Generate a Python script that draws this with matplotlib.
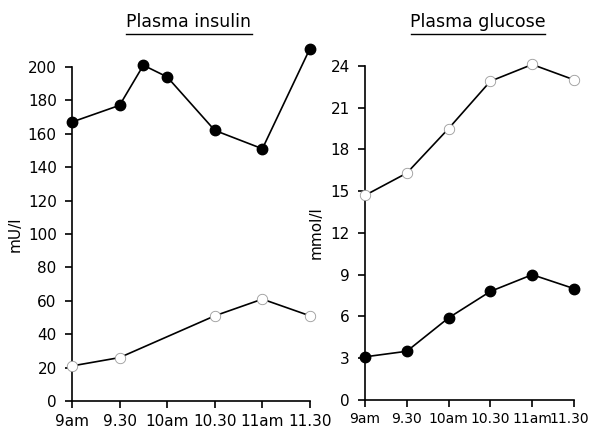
import matplotlib.pyplot as plt
from matplotlib.lines import Line2D
from matplotlib.transforms import ScaledTranslation

# time in minutes after 9am
ticks = [0, 30, 60, 90, 120, 150]
tick_labels = ["9am", "9.30", "10am", "10.30", "11am", "11.30"]

# plasma insulin (mU/l)
ins_hi_t = [0, 30, 45, 60, 90, 120, 150]
ins_hi = [167, 177, 201, 194, 162, 151, 211]
ins_lo_t = [0, 30, 90, 120, 150]
ins_lo = [21, 26, 51, 61, 51]

# plasma glucose (mmol/l)
glu_t = [0, 30, 60, 90, 120, 150]
glu_hi = [14.7, 16.3, 19.5, 22.9, 24.1, 23.0]
glu_lo = [3.1, 3.5, 5.9, 7.8, 9.0, 8.0]

plt.rcParams['font.family'] = ['DejaVu Sans']
fig = plt.figure(figsize=(5.92, 4.30), dpi=100)

ax1 = fig.add_axes([0.1216, 0.0674, 0.402, 0.777])
ax2 = fig.add_axes([0.6166, 0.0698, 0.353, 0.777])


def style(ax, xsize):
    for s in ["top", "right"]:
        ax.spines[s].set_visible(False)
    for s in ["left", "bottom"]:
        ax.spines[s].set_linewidth(1.2)
    ax.tick_params(direction="out", length=5, width=1.2, labelsize=11)
    ax.tick_params(axis="y", pad=6)
    ax.tick_params(axis="x", pad=4, labelsize=xsize)
    ax.set_xticks(ticks)
    ax.set_xticklabels(tick_labels)
    ax.set_xlim(0, 150)


filled = dict(color="black", lw=1.2, marker="o", ms=7.5, mfc="black", mec="black", clip_on=False, zorder=3)
hollow = dict(color="black", lw=1.2, marker="o", ms=7.5, mfc="white", mec="0.6", mew=0.6, clip_on=False, zorder=3)

ax1.plot(ins_hi_t, ins_hi, **filled)
ax1.plot(ins_lo_t, ins_lo, **hollow)
ax1.set_ylim(0, 200)
ax1.set_yticks(range(0, 201, 20))
ax1.set_ylabel("mU/l", fontsize=11, labelpad=4)
style(ax1, 11)

ax2.plot(glu_t, glu_hi, **hollow)
ax2.plot(glu_t, glu_lo, **filled)
ax2.set_ylim(0, 24)
ax2.set_yticks(range(0, 25, 3))
ax2.set_ylabel("mmol/l", fontsize=11, labelpad=5)
style(ax2, 10)
# nudge the last label left so it stays inside the figure
last = ax2.get_xticklabels()[-1]
last.set_transform(last.get_transform() + ScaledTranslation(-5 / 100, 0, fig.dpi_scale_trans))

# underlined titles
fig.text(189 / 592, 1 - 22 / 430, "Plasma insulin", ha="center", va="center", fontsize=12.5)
fig.add_artist(Line2D([126 / 592, 252 / 592], [1 - 34 / 430] * 2, color="black", lw=1.0))
fig.text(478 / 592, 1 - 22 / 430, "Plasma glucose", ha="center", va="center", fontsize=12.5)
fig.add_artist(Line2D([411 / 592, 545 / 592], [1 - 34 / 430] * 2, color="black", lw=1.0))

fig.savefig("out.png", dpi=100)
